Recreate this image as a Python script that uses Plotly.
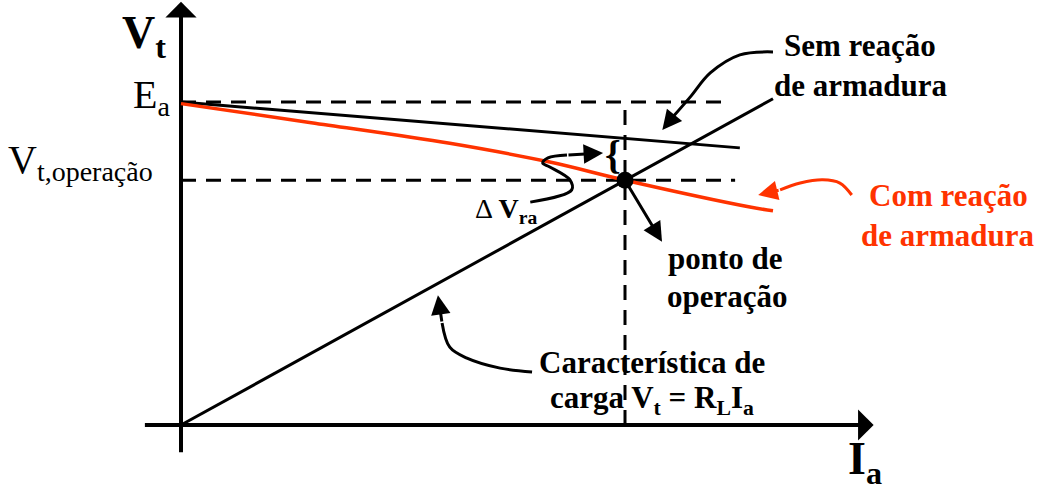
import plotly.graph_objects as go

W, H = 1040, 485

# arbitrary units: Ea = 100, armature current at the operating point = 7.5
Ea = 100.0
RL = 10.1
Ia_op = 7.5
Vt_op = RL * Ia_op

# no armature reaction (straight)
sem_ia = [0.0, 9.44]
sem_vt = [100.0, 85.8]

# with armature reaction (bends down)
com_ia = [0.0, 2.2, 4.54, 6.23, 7.5, 9.61, 10.0]
com_vt = [99.5, 93.6, 87.2, 81.4, 75.8, 67.5, 66.3]

# load characteristic Vt = RL * Ia
load_ia = [0.0, 10.0]
load_vt = [RL * i for i in load_ia]

# extent of the dashed guide lines
ea_dash_end = 9.24
op_dash_end = 9.36

# axis extents
ia_axis = [-0.61, 11.55]
vt_axis = [-8.4, 129.0]

BLACK = "#000000"
RED = "#ff3300"
FONT = "Liberation Serif"

fig = go.Figure()

def line(xs, ys, color=BLACK, width=3, dash=None, shape="linear"):
    fig.add_trace(go.Scatter(
        x=xs, y=ys, mode="lines", hoverinfo="skip", showlegend=False,
        line=dict(color=color, width=width, dash=dash, shape=shape, smoothing=1.0),
    ))

# axes
line(ia_axis, [0, 0], width=4)
line([0, 0], vt_axis, width=4)

# dashed guides
line([0, ea_dash_end], [Ea, Ea], width=3, dash="15px,10px")
line([0, op_dash_end], [Vt_op, Vt_op], width=3, dash="15px,10px")
line([Ia_op, Ia_op], [0, Ea], width=3, dash="15px,10px")

# characteristics
line(sem_ia, sem_vt, width=3)
line(com_ia, com_vt, color=RED, width=3.5, shape="spline")
line(load_ia, load_vt, width=3)

# operating point
fig.add_trace(go.Scatter(
    x=[Ia_op], y=[Vt_op], mode="markers", hoverinfo="skip", showlegend=False,
    marker=dict(color=BLACK, size=17),
))

# curved pointer arrows: spline body + arrowhead on last segment
pointers = [
    ([10.0, 9.44, 8.94, 8.60, 8.31, 8.13], [115.5, 114.6, 109.0, 101.5, 95.4, 91.3], BLACK),
    ([11.33, 11.13, 10.84, 10.46, 10.12, 9.75], [71.2, 74.9, 75.9, 74.9, 72.8, 71.2], RED),
    ([5.93, 5.39, 4.83, 4.54, 4.41, 4.34], [16.4, 17.6, 20.7, 24.1, 31.6, 40.2], BLACK),
    ([5.90, 6.60, 6.57, 6.23, 6.11, 6.20, 6.52, 7.13], [69.0, 72.8, 75.9, 79.9, 81.1, 82.7, 83.6, 84.2], BLACK),
    ([7.5, 8.125], [Vt_op, 56.7], BLACK),
]

for xs, ys, col in pointers:
    line(xs[:-1], ys[:-1], color=col, width=3, shape="spline")
    fig.add_annotation(
        x=xs[-1], y=ys[-1], ax=xs[-2], ay=ys[-2], xref="x", yref="y",
        axref="x", ayref="y", text="", showarrow=True,
        arrowhead=2, arrowsize=1.3, arrowwidth=3, arrowcolor=col, standoff=0,
    )

# axis arrow tips
fig.add_annotation(x=0, y=131.0, ax=0, ay=vt_axis[1] - 8, xref="x", yref="y",
                   axref="x", ayref="y", text="", showarrow=True,
                   arrowhead=1, arrowsize=1.3, arrowwidth=4, arrowcolor=BLACK)
fig.add_annotation(x=11.7, y=0, ax=ia_axis[1] - 0.3, ay=0, xref="x", yref="y",
                   axref="x", ayref="y", text="", showarrow=True,
                   arrowhead=1, arrowsize=1.3, arrowwidth=4, arrowcolor=BLACK)

def label(text, px, py, size=31, color=BLACK, anchor="center"):
    fig.add_annotation(
        x=px / W, y=1 - py / H, xref="paper", yref="paper", text=text,
        showarrow=False, xanchor=anchor, yanchor="middle",
        font=dict(family=FONT, size=size, color=color),
    )

label("<b>V<sub>t</sub></b>", 120, 36, size=46, anchor="left")
label("E<sub>a</sub>", 172, 97, size=40, anchor="right")
label("V<sub>t,operação</sub>", 6, 162, size=40, anchor="left")
label("Δ <b>V<sub>ra</sub></b>", 506, 210, size=28)
label("<b>{</b>", 613, 154, size=40)
label("<b>Sem reação</b>", 860, 45)
label("<b>de armadura</b>", 861, 85)
label("<b>Com reação</b>", 948, 195, color=RED)
label("<b>de armadura</b>", 948, 235, color=RED)
label("<b>ponto de</b>", 725, 258)
label("<b>operação</b>", 727, 296)
label("<b>Característica de</b>", 652, 362)
label("<b>carga V<sub>t</sub> = R<sub>L</sub>I<sub>a</sub></b>", 652, 400)
label("<b>I<sub>a</sub></b>", 846, 462, size=46, anchor="left")

fig.update_layout(
    width=W, height=H,
    margin=dict(l=0, r=0, t=0, b=0),
    paper_bgcolor="white", plot_bgcolor="white",
    xaxis=dict(range=[-181 / 59.2, 859 / 59.2], visible=False, fixedrange=True),
    yaxis=dict(range=[-60 / 3.23, 425 / 3.23], visible=False, fixedrange=True),
    showlegend=False,
)

# drop the default body margin so the figure sits at the window's corner
fig.write_html("out.html", config={"displayModeBar": False},
               post_script="document.body.style.margin='0';")
